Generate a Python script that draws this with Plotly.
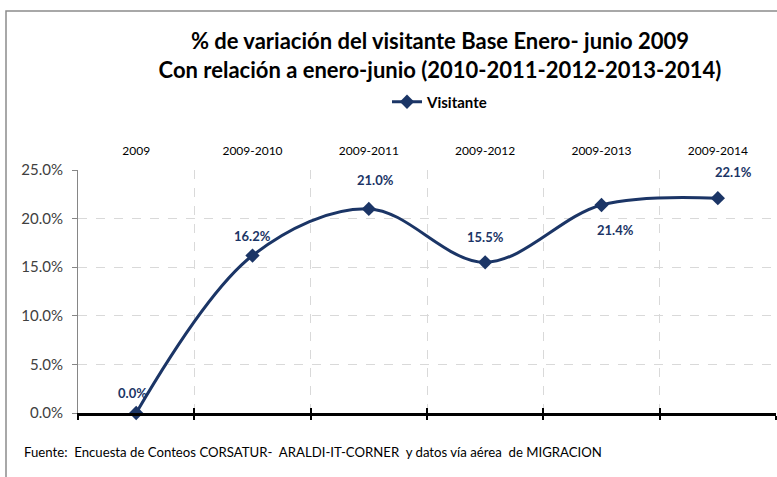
import plotly.graph_objects as go

categories = ["2009", "2009-2010", "2009-2011", "2009-2012", "2009-2013", "2009-2014"]
visitante = [0.0, 0.162, 0.210, 0.155, 0.214, 0.221]
y_ticks = [0, 0.05, 0.10, 0.15, 0.20, 0.25]

# label offsets (pixels) for the data labels
label_dx = [-4, 0, 7, 0, 14, 16]
label_dy = [20, 20, 29, 25, -25, 26]

W, H = 777, 477
ML, MR, MT, MB = 78, 1, 170, 64
pw, ph = W - ML - MR, H - MT - MB

navy = "#1B3566"
FONT = "Lato"

xs = list(range(len(categories)))
bounds = [i - 0.5 for i in range(len(categories) + 1)]

fig = go.Figure()
fig.add_trace(go.Scatter(
    x=xs, y=visitante, name="<b>Visitante</b>",
    mode="lines+markers",
    line=dict(color=navy, width=3, shape="spline", smoothing=1),
    marker=dict(symbol="diamond", size=11, color=navy),
    cliponaxis=False,
))

for i, v in enumerate(visitante):
    fig.add_annotation(
        x=xs[i], y=v, text=f"<b>{v*100:.1f}%</b>", showarrow=False,
        xshift=label_dx[i], yshift=label_dy[i],
        font=dict(family=FONT, size=13, color=navy),
    )

fig.update_layout(
    width=W, height=H,
    margin=dict(l=ML, r=MR, t=MT, b=MB, autoexpand=False),
    paper_bgcolor="white", plot_bgcolor="white",
    font=dict(family=FONT, color="#000"),
    title=dict(
        text="<b>% de variación del visitante Base Enero- junio 2009<br>Con relación a enero-junio (2010-2011-2012-2013-2014)</b>",
        x=440 / W, xanchor="center", xref="container",
        y=1 - 49 / H, yanchor="middle", yref="container",
        font=dict(family=FONT, size=22, color="#000"),
    ),
    showlegend=True,
    legend=dict(
        orientation="h", x=(440 - ML) / pw, xanchor="center",
        y=1 + (170 - 102) / ph, yanchor="middle",
        font=dict(family=FONT, size=15, color="#000"),
        itemwidth=30,
    ),
    xaxis=dict(
        range=[-0.5, len(categories) - 0.5], side="top",
        tickvals=xs, ticktext=categories, ticks="", showgrid=False,
        showline=False, zeroline=False, ticklabelstandoff=12,
        tickfont=dict(family=FONT, size=12, color="#000"),
        fixedrange=True,
    ),
    xaxis2=dict(
        overlaying="x", side="bottom", matches="x",
        range=[-0.5, len(categories) - 0.5],
        tickvals=bounds, showticklabels=False,
        showgrid=True, gridcolor="#d9d9d9", griddash="dash", gridwidth=1,
        showline=True, linecolor="#000", linewidth=3,
        ticks="outside", ticklen=4, tickwidth=2, tickcolor="#000",
        zeroline=False,
    ),
    xaxis3=dict(
        overlaying="x", side="bottom", matches="x",
        range=[-0.5, len(categories) - 0.5],
        tickvals=bounds, showticklabels=False, showgrid=False,
        showline=False, ticks="inside", ticklen=5, tickwidth=2, tickcolor="#000",
        zeroline=False,
    ),
    yaxis=dict(
        range=[0, 0.25], tickvals=y_ticks, tickformat=".1%",
        showgrid=True, gridcolor="#d9d9d9", griddash="dash", gridwidth=1,
        showline=True, linecolor="#868686", linewidth=1,
        ticks="outside", ticklen=5, tickcolor="#868686",
        zeroline=False, ticklabelstandoff=6,
        tickfont=dict(family=FONT, size=15, color="#404040"),
    ),
)

fig.add_trace(go.Scatter(x=[None], y=[None], xaxis="x2", showlegend=False, hoverinfo="skip"))
fig.add_trace(go.Scatter(x=[None], y=[None], xaxis="x3", showlegend=False, hoverinfo="skip"))

# chart border
fig.add_shape(type="rect", xref="paper", yref="paper",
              x0=(6 - ML) / pw, x1=(W + 5 - ML) / pw,
              y0=-(H + 5 - MT - ph) / ph, y1=1 + (MT - 11) / ph,
              line=dict(color="#8c8c8c", width=1.5), layer="below")

fig.add_annotation(
    text="Fuente:  Encuesta de Conteos CORSATUR-  ARALDI-IT-CORNER  y datos vía aérea  de MIGRACION",
    xref="paper", yref="paper", x=(22 - ML) / pw, y=-(452 - MT - ph) / ph,
    xanchor="left", yanchor="middle", showarrow=False,
    font=dict(family=FONT, size=13.2, color="#000"),
)

fig.write_html("out.html", config={"displayModeBar": False},
               post_script="document.body.style.margin='0';")
